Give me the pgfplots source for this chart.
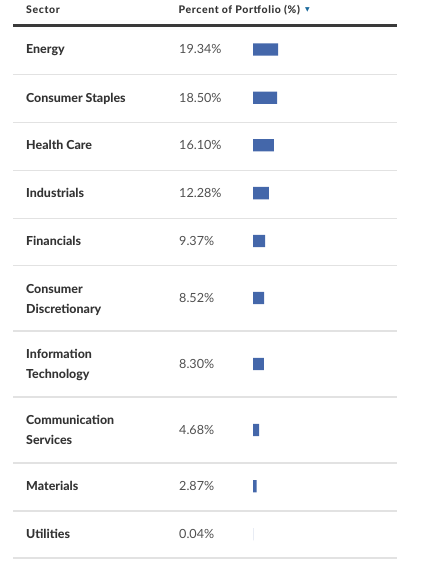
\documentclass[border=0pt]{standalone}
\usepackage{pgfplots}
\pgfplotsset{compat=1.18}
\usepackage{pgfplotstable}
\usepackage{fontspec}
\setmainfont{Lato}
\newfontfamily\symfont{DejaVu Sans}
\newfontfamily\heavyfont{Lato Heavy}
\newfontfamily\headfont[LetterSpace=6]{Lato Heavy}
\definecolor{txt}{HTML}{333333}
\definecolor{valtxt}{HTML}{505050}
\definecolor{barblue}{HTML}{4467AA}
\definecolor{rowline}{HTML}{E2E2E2}
\definecolor{headline}{HTML}{3A3A3A}
\definecolor{arrowblue}{HTML}{1B6A9C}

% bar data: y = row centre (px), val = percent
\pgfplotstableread[col sep=comma]{
y,val
49.5,19.34
97.8,18.50
145.3,16.10
193.1,12.28
241.0,9.37
298.0,8.52
364.0,8.30
430.0,4.68
486.2,2.87
534.3,0.04
}\sectordata

% sector names (one entry per text line)
\pgfplotstableread[col sep=comma]{
x,y,label
26,49.5,Energy
26,98,Consumer Staples
26,145.4,Health Care
26,193,Industrials
26,240.7,Financials
26,288.6,Consumer
26,308.7,Discretionary
26,354.3,Information
26,374.2,Technology
26,420,Communication
26,440,Services
26,485.7,Materials
26,533.7,Utilities
}\namedata

\begin{document}
\begin{tikzpicture}
% ---- layout axis (pixel units) ----
\begin{axis}[
  at={(0pt,0pt)}, anchor=south west,
  scale only axis, width=446pt, height=564pt,
  xmin=0, xmax=446, ymin=0, ymax=564, y dir=reverse,
  hide axis, clip=false,
  /pgf/number format/assume math mode=true,
]
\path (axis cs:0,0) rectangle (axis cs:446,564);
% row separators
\addplot[rowline, line width=1.5pt, unbounded coords=jump] coordinates {
 (13,74.3) (397,74.3) (nan,nan)
 (13,122.3) (397,122.3) (nan,nan)
 (13,170.5) (397,170.5) (nan,nan)
 (13,218.3) (397,218.3) (nan,nan)
 (13,265.7) (397,265.7) (nan,nan)
 (13,331.2) (397,331.2) (nan,nan)
 (13,397.2) (397,397.2) (nan,nan)
 (13,462.8) (397,462.8) (nan,nan)
 (13,510.8) (397,510.8) (nan,nan)
 (13,558.2) (397,558.2)
};
% header line
\addplot[headline, line width=2.6pt] coordinates {(13,25.3) (397,25.3)};
% sector names
\addplot[only marks, mark=none,
  nodes near coords, point meta=explicit symbolic,
  every node near coord/.append style={anchor=base west, inner sep=0pt,
     yshift=-4.5pt, font=\heavyfont\fontsize{12.4}{15}\selectfont, text=txt}]
  table[x=x, y=y, meta=label] {\namedata};
% percent values
\addplot[only marks, mark=none,
  nodes near coords={\pgfmathprintnumber[fixed,fixed zerofill,precision=2,assume math mode=true]{\pgfplotspointmeta}\%},
  point meta=\thisrow{val},
  every node near coord/.append style={anchor=base west, inner sep=0pt,
     yshift=-4.5pt, font=\fontsize{12.6}{15}\selectfont, text=valtxt}]
  table[x expr=179, y=y] {\sectordata};
% header texts
\addplot[only marks, mark=none,
  nodes near coords, point meta=explicit symbolic,
  every node near coord/.append style={anchor=base west, inner sep=0pt,
     yshift=-3.6pt, font=\headfont\fontsize{10.5}{12}\selectfont, text=txt}]
  table[x=x, y=y, meta=label, col sep=comma] {
x,y,label
26,10.2,Sector
178.5,10.2,Percent of Portfolio (\%)
};
\addplot[only marks, mark=none,
  nodes near coords={\symfont\fontsize{6}{7}\selectfont\char"25BC},
  every node near coord/.append style={anchor=center, inner sep=0pt, text=arrowblue}]
  coordinates {(307.5,9.6)};
\end{axis}
% ---- bar axis (percent on x, pixels on y) ----
\begin{axis}[
  at={(0pt,0pt)}, anchor=south west,
  scale only axis, width=446pt, height=564pt,
  xmin=-194.615, xmax=148.462, ymin=0, ymax=564, y dir=reverse,
  hide axis, clip=false,
]
\addplot[xbar, bar width=12.3pt, fill=barblue, draw=none]
  table[x=val, y=y] {\sectordata};
\end{axis}
\path[use as bounding box] (0pt,0pt) rectangle (446pt,564pt);
\end{tikzpicture}
\end{document}
